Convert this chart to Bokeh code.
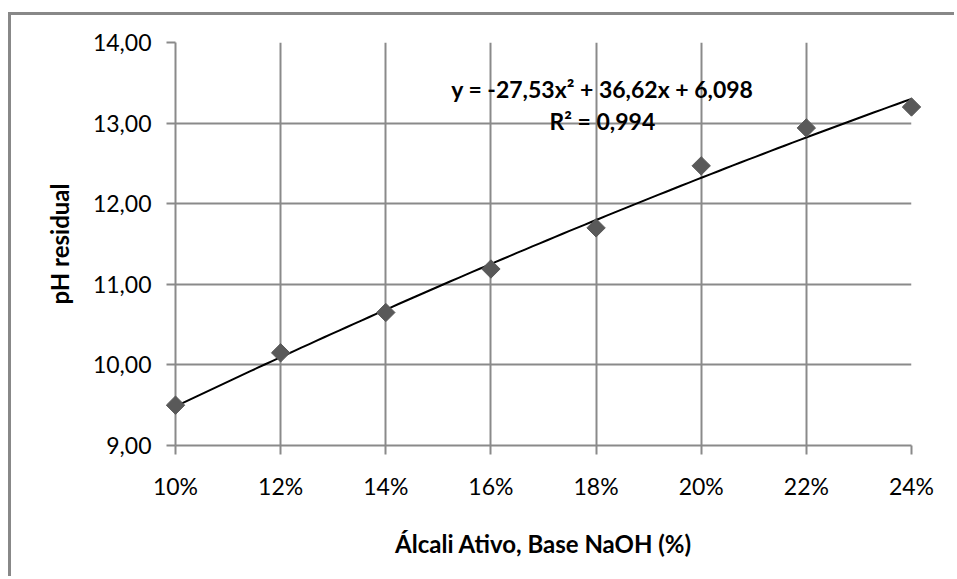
import numpy as np
from bokeh.plotting import figure
from bokeh.models import Range1d, FixedTicker, Label
from bokeh.embed import file_html
from bokeh.resources import INLINE

# Active alkali dose (fraction, NaOH basis) and residual pH
alcali = [0.10, 0.12, 0.14, 0.16, 0.18, 0.20, 0.22, 0.24]
ph_residual = [9.50, 10.15, 10.65, 11.19, 11.70, 12.47, 12.94, 13.20]

x_ticks = [0.10, 0.12, 0.14, 0.16, 0.18, 0.20, 0.22, 0.24]
x_tick_labels = ["10%", "12%", "14%", "16%", "18%", "20%", "22%", "24%"]
y_ticks = [9, 10, 11, 12, 13, 14]
y_tick_labels = ["9,00", "10,00", "11,00", "12,00", "13,00", "14,00"]

# Polynomial trendline coefficients (2nd order) and fit quality
coef_a, coef_b, coef_c = -27.53, 36.62, 6.098
r_squared = "0,994"

FONT = "Lato"
GRID = "#8a8a8a"

p = figure(
    width=946, height=564,
    x_range=Range1d(0.10, 0.24), y_range=Range1d(9, 14),
    output_backend="svg", toolbar_location=None,
    min_border_left=164, min_border_right=46,
    min_border_top=27, min_border_bottom=134,
)
# chart-area frame drawn as the element's own border
p.margin = (12, 0, 0, 8)
p.styles = {"border-left": "3px solid #888888", "border-top": "3px solid #888888"}
p.outline_line_color = None
p.background_fill_color = "white"
p.border_fill_color = "white"

# grid
p.xgrid.ticker = FixedTicker(ticks=x_ticks)
p.ygrid.ticker = FixedTicker(ticks=y_ticks)
for g in (p.xgrid, p.ygrid):
    g.grid_line_color = GRID
    g.grid_line_width = 2

# axes
p.xaxis.ticker = FixedTicker(ticks=x_ticks)
p.yaxis.ticker = FixedTicker(ticks=y_ticks)
p.xaxis.major_label_overrides = {t: l for t, l in zip(x_ticks, x_tick_labels)}
p.yaxis.major_label_overrides = {t: l for t, l in zip(y_ticks, y_tick_labels)}
for ax in (p.xaxis, p.yaxis):
    ax.axis_line_color = GRID
    ax.axis_line_width = 2
    ax.major_tick_line_color = GRID
    ax.major_tick_line_width = 2
    ax.major_tick_in = 0
    ax.major_tick_out = 9
    ax.minor_tick_line_color = None
    ax.major_label_text_font = FONT
    ax.major_label_text_font_size = "23px"
    ax.major_label_text_color = "black"
    ax.axis_label_text_font = FONT
    ax.axis_label_text_font_style = "bold"
    ax.axis_label_text_font_size = "24px"
    ax.axis_label_text_color = "black"

p.xaxis.major_label_standoff = 17
p.yaxis.major_label_standoff = 15
p.xaxis.axis_label = "Álcali Ativo, Base NaOH (%)"
p.yaxis.axis_label = "pH residual"
p.xaxis.axis_label_standoff = 26
p.yaxis.axis_label_standoff = 16

# trendline
xs = np.linspace(alcali[0], alcali[-1], 100)
ys = coef_a * xs**2 + coef_b * xs + coef_c
p.line(xs, ys, line_color="black", line_width=2)

# data points (diamonds), kept above the frame clip so edge points show whole
p.scatter(alcali, ph_residual, marker="square", angle=np.pi / 4, size=13,
          fill_color="#595959", line_color="#595959", level="overlay")

# equation labels
eq = "y = -27,53x² + 36,62x + 6,098"
for txt, yy in ((eq, 13.42), ("R² = " + r_squared, 13.02)):
    p.add_layout(Label(x=0.1812, y=yy, text=txt, text_align="center",
                       text_baseline="middle", text_font=FONT,
                       text_font_style="bold", text_font_size="23px",
                       text_color="black"))

open("out.html", "w").write(file_html(p, INLINE))
